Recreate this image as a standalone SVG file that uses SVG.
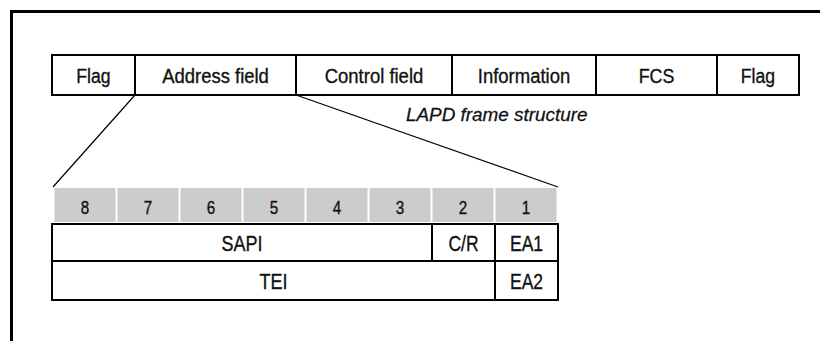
<svg xmlns="http://www.w3.org/2000/svg" width="820" height="341" viewBox="0 0 820 341">
  <style>
    .frame { fill: none; stroke: #000; stroke-width: 3; }
    .box { fill: #fff; stroke: #000; stroke-width: 2; }
    .sep { stroke: #000; stroke-width: 2; }
    .bit { fill: #cccccc; }
    .lbl { font-family: "Liberation Sans", Arial, sans-serif; font-size: 21px; fill: #111; stroke: #111; stroke-width: 0.35; text-anchor: middle; }
    .num { font-size: 19px; }
    .big { font-size: 22.5px; }
    .cap { font-family: "Liberation Sans", Arial, sans-serif; font-size: 18px; font-style: italic; fill: #111; stroke: #111; stroke-width: 0.25; }
    .conn { stroke: #000; stroke-width: 1.2; fill: none; }
  </style>

  <!-- outer frame (top and left edges) -->
  <path class="frame" d="M11.5,341 V11.5 H820"/>

  <!-- LAPD frame fields -->
  <g id="frame-row">
    <rect class="box" x="52" y="55" width="747" height="40"/>
    <line class="sep" x1="135" y1="55" x2="135" y2="95"/>
    <line class="sep" x1="296" y1="55" x2="296" y2="95"/>
    <line class="sep" x1="452" y1="55" x2="452" y2="95"/>
    <line class="sep" x1="596" y1="55" x2="596" y2="95"/>
    <line class="sep" x1="717" y1="55" x2="717" y2="95"/>
  </g>
  <g id="field-flag1"><text class="lbl" transform="translate(93.5,82.5) scale(0.84,1)">Flag</text></g>
  <g id="field-address"><text class="lbl" transform="translate(215.5,82.5) scale(0.88,1)">Address field</text></g>
  <g id="field-control"><text class="lbl" transform="translate(374,82.5) scale(0.88,1)">Control field</text></g>
  <g id="field-information"><text class="lbl" transform="translate(524,82.5) scale(0.88,1)">Information</text></g>
  <g id="field-fcs"><text class="lbl" transform="translate(656.5,82.5) scale(0.85,1)">FCS</text></g>
  <g id="field-flag2"><text class="lbl" transform="translate(758,82.5) scale(0.84,1)">Flag</text></g>

  <g id="caption"><text class="cap" transform="translate(406,121) scale(1.05,1)">LAPD frame structure</text></g>

  <!-- expansion lines from the address field -->
  <g id="connectors">
    <line class="conn" x1="135" y1="95" x2="53" y2="187"/>
    <line class="conn" x1="296" y1="95" x2="558" y2="187"/>
  </g>

  <!-- bit numbers -->
  <g id="bit-header">
    <rect class="bit" x="54.5" y="188" width="61" height="34"/>
    <rect class="bit" x="117.5" y="188" width="61" height="34"/>
    <rect class="bit" x="180.5" y="188" width="61" height="34"/>
    <rect class="bit" x="243.5" y="188" width="61" height="34"/>
    <rect class="bit" x="306.5" y="188" width="61" height="34"/>
    <rect class="bit" x="369.5" y="188" width="61" height="34"/>
    <rect class="bit" x="432.5" y="188" width="61" height="34"/>
    <rect class="bit" x="495.5" y="188" width="61" height="34"/>
    <text class="lbl num" transform="translate(85,213.5) scale(0.8,1)">8</text>
    <text class="lbl num" transform="translate(148,213.5) scale(0.8,1)">7</text>
    <text class="lbl num" transform="translate(211,213.5) scale(0.8,1)">6</text>
    <text class="lbl num" transform="translate(274,213.5) scale(0.8,1)">5</text>
    <text class="lbl num" transform="translate(337,213.5) scale(0.8,1)">4</text>
    <text class="lbl num" transform="translate(400,213.5) scale(0.8,1)">3</text>
    <text class="lbl num" transform="translate(463,213.5) scale(0.8,1)">2</text>
    <text class="lbl num" transform="translate(526,213.5) scale(0.8,1)">1</text>
  </g>

  <!-- address octets -->
  <g id="address-table">
    <rect class="box" x="52" y="224" width="506" height="76"/>
    <line class="sep" x1="52" y1="261" x2="558" y2="261"/>
    <line class="sep" x1="432" y1="224" x2="432" y2="261"/>
    <line class="sep" x1="495" y1="224" x2="495" y2="300"/>
  </g>
  <g id="cell-sapi"><text class="lbl big" transform="translate(242,251) scale(0.8,1)">SAPI</text></g>
  <g id="cell-cr"><text class="lbl big" transform="translate(463.5,251) scale(0.78,1)">C/R</text></g>
  <g id="cell-ea1"><text class="lbl big" transform="translate(526.5,251) scale(0.78,1)">EA1</text></g>
  <g id="cell-tei"><text class="lbl big" transform="translate(273.5,289) scale(0.8,1)">TEI</text></g>
  <g id="cell-ea2"><text class="lbl big" transform="translate(526.5,289) scale(0.78,1)">EA2</text></g>
</svg>
